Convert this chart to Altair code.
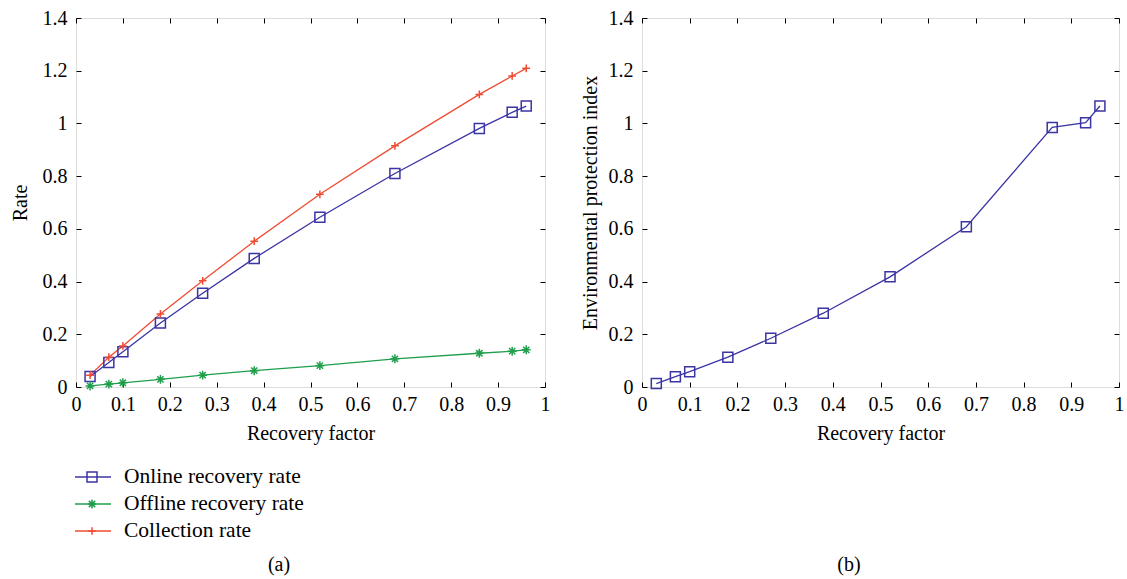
import altair as alt
import pandas as pd

# ---- data ----
x_vals = [0.03, 0.07, 0.10, 0.18, 0.27, 0.38, 0.52, 0.68, 0.86, 0.93, 0.96]
online = [0.040, 0.093, 0.134, 0.243, 0.356, 0.488, 0.644, 0.810, 0.981, 1.042, 1.066]
offline = [0.004, 0.011, 0.016, 0.029, 0.045, 0.062, 0.081, 0.107, 0.128, 0.136, 0.141]
collection = [0.045, 0.113, 0.156, 0.277, 0.403, 0.553, 0.731, 0.915, 1.110, 1.180, 1.209]
env_index = [0.013, 0.039, 0.058, 0.113, 0.185, 0.280, 0.418, 0.608, 0.985, 1.003, 1.066]

series_names = ["Online recovery rate", "Offline recovery rate", "Collection rate"]
series_colors = ["#3b34a3", "#1f9e4c", "#f04b33"]
STAR = "M-1,0H1M0,-1V1M-0.7,-0.7L0.7,0.7M-0.7,0.7L0.7,-0.7"
PLUS = "M-1,0H1M0,-1V1"
series_shapes = ["square", STAR, PLUS]
series_sizes = [100, 60, 110]

x_ticks = [0, 0.1, 0.2, 0.3, 0.4, 0.5, 0.6, 0.7, 0.8, 0.9, 1]
y_ticks = [0, 0.2, 0.4, 0.6, 0.8, 1, 1.2, 1.4]
x_title = "Recovery factor"
ya_title = "Rate"
yb_title = "Environmental protection index"

rows = []
for name, vals in zip(series_names, [online, offline, collection]):
    for xv, yv in zip(x_vals, vals):
        rows.append({"x": xv, "y": yv, "series": name})
df_a = pd.DataFrame(rows)
df_b = pd.DataFrame({"x": x_vals, "y": env_index, "series": series_names[0]})
legend_df = pd.DataFrame({"series": series_names})

FONT = "Liberation Serif"
FS = 20
LFS = 21.5
H = 369
WA = 469
WB = 477

color_scale = alt.Scale(domain=series_names, range=series_colors)
shape_scale = alt.Scale(domain=series_names, range=series_shapes)
size_scale = alt.Scale(domain=series_names, range=series_sizes)
xs = alt.Scale(domain=[0, 1], nice=False, zero=False)
ys = alt.Scale(domain=[0, 1.4], nice=False, zero=False)


def make_axis(values, orient, title=None, labels=True, **kw):
    args = dict(values=values, orient=orient, domain=False, grid=False, ticks=True,
                tickSize=5, tickColor="black", tickWidth=1, offset=-5,
                labels=labels, labelFont=FONT, labelFontSize=FS, labelColor="black",
                titleFont=FONT, titleFontSize=FS, titleFontWeight="normal",
                titleColor="black", labelFlush=False, labelOverlap=False,
                format="~g")
    args.update(kw)
    if title is None:
        return alt.Axis(title=None, **args)
    return alt.Axis(title=title, **args)


def panel(df, width, ytitle, ytitle_pad, with_legend, tag, tag_x):
    xb = alt.X("x:Q", scale=xs, axis=make_axis(
        x_ticks, "bottom", x_title, labelPadding=7, titlePadding=9.5))
    yl = alt.Y("y:Q", scale=ys, axis=make_axis(
        y_ticks, "left", ytitle, labelPadding=9, titlePadding=ytitle_pad))
    col = alt.Color("series:N", scale=color_scale, legend=None)

    lines = alt.Chart(df).mark_line(strokeWidth=1.3).encode(
        x=xb, y=yl, color=col, detail="series:N")
    pts = alt.Chart(df).mark_point(filled=False, strokeWidth=1.5, opacity=1).encode(
        x=alt.X("x:Q", scale=xs, axis=None),
        y=alt.Y("y:Q", scale=ys, axis=None),
        color=col,
        shape=alt.Shape("series:N", scale=shape_scale, legend=None),
        size=alt.Size("series:N", scale=size_scale, legend=None))
    frame = alt.Chart(df).mark_point(opacity=0).encode(
        x=alt.X("x:Q", scale=xs, axis=make_axis(x_ticks, "top", None, labels=False)),
        y=alt.Y("y:Q", scale=ys, axis=make_axis(y_ticks, "right", None, labels=False)))
    tag_layer = alt.Chart(pd.DataFrame({"t": [tag]})).mark_text(
        font=FONT, fontSize=FS, color="black", align="center", baseline="middle"
    ).encode(text="t:N", x=alt.value(tag_x), y=alt.value(547))

    layers = [frame, lines, pts]
    if with_legend:
        ly = alt.Y("series:N", axis=None,
                   scale=alt.Scale(type="point", domain=series_names,
                                   range=[459, 513], padding=0))
        leg_rule = alt.Chart(legend_df).mark_rule(strokeWidth=1.3).encode(
            x=alt.value(-1), x2=alt.value(35), y=ly, color=col)
        leg_pts = alt.Chart(legend_df).mark_point(filled=False, strokeWidth=1.5, opacity=1).encode(
            x=alt.value(16), y=ly, color=col,
            shape=alt.Shape("series:N", scale=shape_scale, legend=None),
            size=alt.Size("series:N", scale=size_scale, legend=None))
        leg_txt = alt.Chart(legend_df).mark_text(
            font=FONT, fontSize=LFS, color="black", align="left", baseline="middle"
        ).encode(x=alt.value(48), y=ly, text="series:N")
        layers += [leg_rule, leg_pts, leg_txt]
    layers.append(tag_layer)
    return alt.layer(*layers).resolve_scale(x="independent", y="independent").properties(
        width=width, height=H)


pa = panel(df_a, WA, ya_title, 12, True, "(a)", 203)
pb = panel(df_b, WB, yb_title, 8, False, "(b)", 207)

chart = alt.hconcat(pa, pb, spacing=28).properties(
    padding={"left": 9, "top": 7, "right": 0, "bottom": 0}
).configure_view(stroke="black", strokeWidth=1.5).configure(background="white")

chart.save("out.html", embed_options={"renderer": "svg", "actions": False})
